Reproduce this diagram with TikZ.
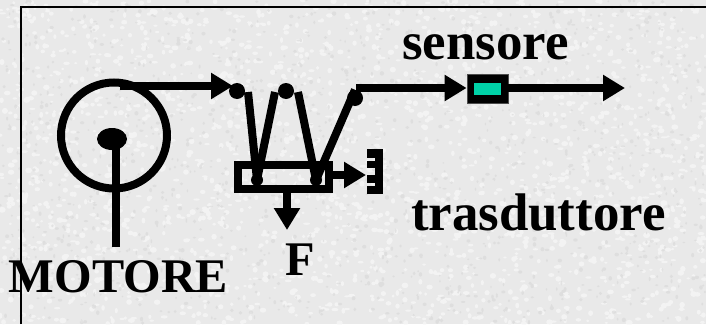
\documentclass[tikz,border=0pt]{standalone}
\usepackage{fontspec}
\setmainfont{Liberation Serif}
\usetikzlibrary{arrows.meta,calc,shapes.geometric}
\definecolor{bgbase}{HTML}{E9E9E9}
\definecolor{bgdark}{HTML}{D8D8D8}
\definecolor{bglite}{HTML}{F8F8F8}
\definecolor{sensgreen}{HTML}{00D2A8}
\tikzset{
  x=1pt,y=-1pt,
  wire/.style={line width=8pt,black},
  thickarrow/.style={wire,-{Triangle[length=22pt,width=25pt]}},
  joint/.style={circle,fill=black,inner sep=0pt,minimum size=16pt},
  smalljoint/.style={circle,fill=black,inner sep=0pt,minimum size=12pt},
  bigtext/.style={font=\fontsize{52.9}{52.9}\selectfont\bfseries,anchor=base west,inner sep=0pt,outer sep=0pt},
  captext/.style={font=\fontsize{48.3}{48.3}\selectfont\bfseries,anchor=base west,inner sep=0pt,outer sep=0pt},
  frameline/.style={line width=2pt,black},
}
\pgfmathsetseed{4242}
\begin{document}
\begin{tikzpicture}
\useasboundingbox (0,0) rectangle (706,324);
% mottled paper background
\fill[bgbase] (0,0) rectangle (706,324);
\fill[bglite,opacity=.7]
  \foreach \i in {1,...,2200}{
    ({706*rnd},{324*rnd}) ellipse [x radius=1.5+2*rnd,y radius=1+2*rnd]
  };
\fill[bgdark,opacity=.6]
  \foreach \i in {1,...,1500}{
    ({706*rnd},{324*rnd}) ellipse [x radius=.8+1.5*rnd,y radius=.8+1.5*rnd]
  };
% frame
\coordinate (fa) at (21,324);
\coordinate (fb) at (21,7);
\coordinate (fc) at (706,7);
\draw[frameline] (fa) -- (fb) -- (fc);
% motor
\node[draw=black,line width=8pt,circle,minimum size=106pt,inner sep=0pt] (wheel) at (114,135.5) {};
\node[ellipse,fill=black,minimum width=30pt,minimum height=22pt,inner sep=0pt] (hub) at (112,139) {};
\coordinate (shaftend) at (116,247);
\draw[line width=8pt] (hub.center -| shaftend) -- (shaftend);
% belt arrow from motor to first pulley
\coordinate (beltstart) at (120,86);
\node[joint] (j1) at (237,91) {};
\node[joint] (j2) at (286,91) {};
\node[joint] (j3) at (355,98) {};
\draw[thickarrow] (beltstart) -- (233,86);
% load cell box
\node[draw=black,line width=8pt,minimum width=91pt,minimum height=24.5pt,inner sep=0pt] (cell) at (283.5,177) {};
\node[smalljoint] (l1) at (257,180) {};
\node[smalljoint] (l2) at (316,180) {};
% the wire
\coordinate (t1) at (248,92);
\coordinate (t2a) at (275,92);
\coordinate (t2b) at (298,92);
\draw[wire] (t1) -- (l1.center);
\draw[wire] (t2a) -- (l1.center);
\draw[wire] (t2b) -- (l2.center);
\draw[wire] (j3.north) -- (l2.center);
% output arrows of the cell
\coordinate (rtip) at (366,175);
\draw[thickarrow] (cell.east |- rtip) -- (rtip);
\coordinate (dtip) at (287,230);
\draw[thickarrow] (cell.south -| dtip) -- (dtip);
% transducer comb
\node[fill=black,minimum width=8pt,minimum height=45pt,inner sep=0pt] (comb) at (379,171.5) {};
\foreach \ya/\yb in {149/158,161/168,175/183,186/194}{
  \fill[black] (367,\ya) rectangle (376,\yb);
}
% sensor
\node[fill=black,draw=black!70,line width=.8pt,minimum width=41pt,minimum height=29pt,inner sep=0pt] (sens) at (487.5,88.5) {};
\node[fill=sensgreen,minimum width=27pt,minimum height=12pt,inner sep=0pt] (sensin) at (487.5,89) {};
\coordinate (wirestart) at (356,88);
\coordinate (outtip) at (625,88);
\draw[thickarrow] (wirestart) -- (sens.west |- wirestart);
\draw[thickarrow] (sens.east |- outtip) -- (outtip);
% labels
\node[bigtext] (lsens) at (402,59) {sensore};
\node[bigtext] (ltras) at (411,230) {trasduttore};
\node[captext] (lmot) at (9,292) {MOTORE};
\node[captext] (lf) at (285,275) {F};
\end{tikzpicture}
\end{document}
